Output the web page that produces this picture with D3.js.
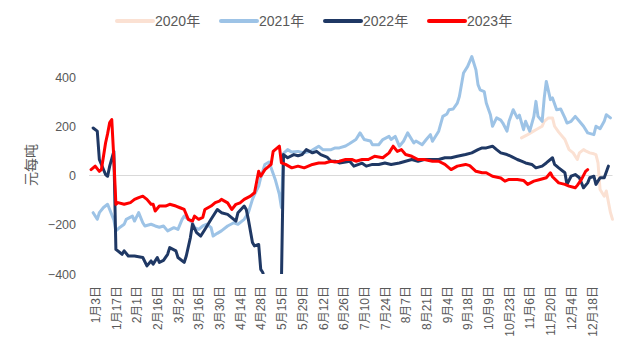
<!DOCTYPE html>
<html>
<head>
<meta charset="utf-8">
<script src="https://cdn.jsdelivr.net/npm/d3@7"></script>
<style>
	body { margin: 0; background: #fff; }
	svg text { font-family: 'Liberation Sans', 'Noto Sans CJK SC', sans-serif; }
</style>
</head>
<body>
<div id="chart"></div>
<script>
// trading-day index (0 = 1月3日) and value in 元每吨
const s2020 = [
	[206, 153], [209, 166], [211, 176], [213, 186], [216, 200], [217, 220], [219, 234],
	[221, 234], [222, 200], [224, 176], [227, 146], [229, 105], [231, 92], [233, 65],
	[234, 92], [236, 105], [237, 100], [239, 92], [241, 88], [242, 85], [243, 51],
	[244, -57], [246, -84], [247, -63], [249, -150], [250, -178]
];
const s2021 = [
	[-1, -151], [1, -178], [2, -151], [4, -130], [6, -117], [7, -138], [9, -180], [10, -225],
	[12, -210], [14, -198], [15, -178], [18, -165], [19, -185], [21, -151], [23, -192],
	[24, -205], [27, -198], [29, -205], [31, -210], [33, -205], [35, -225], [38, -212],
	[40, -219], [42, -178], [43, -165], [45, -178], [47, -192], [48, -212], [50, -219],
	[52, -205], [54, -198], [56, -212], [57, -246], [59, -235], [61, -225], [64, -205],
	[67, -192], [69, -198], [72, -178], [74, -151], [76, -97], [77, -77], [79, -43],
	[80, -9], [82, 45], [84, 55], [85, 31], [87, -16], [89, -77], [90, -130], [91, 90],
	[93, 105], [95, 95], [98, 98], [101, 92], [104, 98], [108, 119], [110, 105], [114, 105],
	[116, 112], [118, 112], [121, 120], [123, 130], [126, 146], [128, 173], [130, 146],
	[133, 140], [134, 125], [137, 125], [139, 146], [142, 159], [143, 146], [145, 159],
	[147, 119], [149, 139], [151, 173], [154, 132], [155, 140], [158, 125], [160, 146],
	[162, 166], [163, 139], [166, 180], [168, 240], [170, 250], [171, 267], [173, 270],
	[175, 294], [176, 321], [178, 416], [180, 443], [182, 483], [184, 429], [185, 369],
	[186, 348], [188, 341], [189, 294], [191, 247], [192, 200], [194, 234], [196, 225],
	[197, 213], [199, 180], [200, 220], [202, 267], [204, 234], [205, 245], [207, 186],
	[208, 220], [210, 180], [212, 240], [213, 301], [214, 240], [216, 220], [217, 314],
	[218, 382], [220, 308], [221, 315], [223, 267], [225, 270], [227, 234], [228, 213],
	[230, 220], [232, 240], [234, 220], [236, 200], [238, 173], [241, 166], [242, 200],
	[244, 190], [246, 220], [247, 247], [249, 234]
];
const s2022 = [
	[-1, 193], [1, 180], [2, 65], [5, 4], [6, -3], [7, 38], [9, 98], [10, -300],
	[13, -320], [14, -306], [16, -327], [19, -327], [23, -333], [25, -367], [27, -347],
	[28, -360], [30, -333], [31, -353], [33, -345], [35, -320], [36, -293], [39, -306],
	[40, -333], [43, -353], [44, -327], [46, -252], [47, -198], [49, -232], [51, -246],
	[53, -219], [56, -178], [59, -138], [61, -151], [64, -158], [68, -185], [69, -151],
	[72, -124], [73, -138], [74, -178], [76, -272], [77, -286], [79, -280], [80, -381],
	[81, -394], [82, -430], [89, -430], [90, -430], [91, 85], [93, 72], [96, 85], [98, 80],
	[100, 85], [102, 105], [105, 92], [107, 98], [109, 85], [112, 75], [114, 58], [116, 58],
	[118, 51], [121, 55], [123, 58], [125, 38], [129, 50], [131, 38], [134, 45], [137, 45],
	[140, 51], [143, 45], [147, 51], [150, 58], [153, 65], [156, 58], [159, 65], [163, 65],
	[166, 65], [169, 72], [172, 72], [175, 78], [179, 85], [182, 92], [185, 105], [187, 112],
	[189, 112], [192, 119], [194, 105], [196, 92], [199, 85], [201, 78], [204, 65], [206, 58],
	[208, 51], [211, 45], [213, 31], [216, 38], [218, 51], [221, 72], [222, 45], [224, 31],
	[227, 11], [228, -36], [230, -3], [232, 4], [234, -9], [236, -50], [238, -30], [239, -9],
	[241, -3], [242, -36], [244, -9], [246, -9], [248, 38]
];
const s2023 = [
	[-2, 24], [0, 38], [2, 17], [3, 24], [5, 132], [6, 170], [7, 215], [8, 227], [9, 70],
	[10, -117], [11, -110], [14, -117], [17, -110], [19, -97], [21, -90], [23, -84],
	[25, -97], [27, -117], [28, -117], [29, -144], [31, -124], [34, -124], [36, -117],
	[39, -124], [41, -131], [43, -138], [45, -178], [47, -185], [48, -165], [50, -178],
	[52, -170], [53, -138], [56, -124], [58, -110], [60, -104], [61, -97], [64, -111],
	[66, -138], [68, -117], [70, -111], [72, -97], [75, -84], [77, -70], [79, 17], [80, -3],
	[82, 24], [85, 45], [86, 98], [88, 112], [89, 119], [90, 51], [92, 45], [95, 31],
	[98, 38], [101, 31], [105, 45], [108, 51], [111, 51], [114, 58], [116, 55], [118, 58],
	[121, 65], [124, 65], [126, 58], [129, 65], [132, 65], [135, 78], [139, 72], [142, 92],
	[144, 119], [146, 98], [148, 105], [150, 85], [153, 78], [156, 65], [159, 65], [163, 58],
	[166, 58], [169, 45], [172, 24], [175, 38], [179, 45], [181, 40], [184, 17], [187, 11],
	[189, 11], [192, -3], [196, -10], [198, -23], [200, -16], [204, -16], [207, -20],
	[209, -36], [212, -23], [215, -16], [218, -9], [220, 11], [221, -5], [224, -30],
	[227, -36], [229, -43], [232, -50], [233, -40], [235, -16], [237, 17], [238, 24]
];

const seriesNames = ['2020年', '2021年', '2022年', '2023年'];
const seriesData = [s2020, s2021, s2022, s2023];
const seriesColors = ['#FBE1D3', '#9DC3E6', '#1F3864', '#FF0000'];

const tickIdx = d3.range(0, 241, 10);
const tickLabels = ['1月3日', '1月17日', '2月1日', '2月16日', '3月2日', '3月16日', '3月30日',
	'4月14日', '4月28日', '5月15日', '5月29日', '6月12日', '6月26日', '7月10日', '7月24日',
	'8月7日', '8月21日', '9月4日', '9月18日', '10月9日', '10月23日', '11月6日', '11月20日',
	'12月4日', '12月18日'];
const yTicks = [-400, -200, 0, 200, 400];

const margin = { top: 77, right: 13.5, bottom: 79, left: 89 },
	width = 626 - margin.left - margin.right,
	height = 353 - margin.top - margin.bottom;

const root = d3
	.select('#chart')
	.append('svg')
	.attr('width', 626)
	.attr('height', 353);

const svg = root.append('g').attr('transform', `translate(${margin.left},${margin.top})`);

const x = d3.scaleLinear().domain([-3, 250]).range([0, width]);
const y = d3.scaleLinear().domain([-400, 400]).range([height, 0]);
const color = d3.scaleOrdinal().domain(seriesNames).range(seriesColors);

svg.append('clipPath').attr('id', 'plot-clip')
	.append('rect').attr('x', -2).attr('y', -40).attr('width', width + 4).attr('height', height + 40);

// zero line
svg.append('line')
	.attr('x1', 0).attr('x2', width)
	.attr('y1', y(0)).attr('y2', y(0))
	.attr('stroke', '#D9D9D9').attr('stroke-width', 1);

// y axis
const yAxis = svg.append('g')
	.call(d3.axisLeft(y).tickValues(yTicks).tickSize(0).tickPadding(13));
yAxis.select('.domain').remove();
yAxis.selectAll('text').attr('fill', '#595959').style('font-size', '12.5px');

// x axis, labels rotated
const xAxis = svg.append('g')
	.attr('transform', `translate(0,${height})`)
	.call(d3.axisBottom(x).tickValues(tickIdx).tickFormat((d, i) => tickLabels[i]).tickSize(0));
xAxis.select('.domain').remove();
xAxis.selectAll('text')
	.attr('transform', 'rotate(-90)')
	.attr('text-anchor', 'end')
	.attr('x', -12)
	.attr('y', 0)
	.attr('dy', '0.35em')
	.attr('fill', '#595959')
	.style('font-size', '12px');

root.append('text')
	.attr('transform', 'translate(31,165) rotate(-90)')
	.attr('text-anchor', 'middle')
	.attr('dy', '0.35em')
	.attr('fill', '#595959')
	.style('font-size', '14px')
	.text('元每吨');

const line = d3.line()
	.x((d) => x(d[0]))
	.y((d) => y(d[1]));

const lines = svg.append('g').attr('clip-path', 'url(#plot-clip)');
seriesData.forEach((s, i) => {
	lines.append('path')
		.attr('d', line(s))
		.attr('fill', 'none')
		.attr('stroke', color(seriesNames[i]))
		.attr('stroke-width', 3)
		.attr('stroke-linejoin', 'round')
		.attr('stroke-linecap', 'round');
});

// legend
const legend = root.append('g').attr('transform', 'translate(117,21)');
seriesNames.forEach((name, i) => {
	const g = legend.append('g').attr('transform', `translate(${i * 104},0)`);
	g.append('line')
		.attr('x1', 0).attr('x2', 36)
		.attr('stroke', color(name))
		.attr('stroke-width', 4)
		.attr('stroke-linecap', 'round');
	g.append('text')
		.attr('x', 38)
		.attr('dy', '0.35em')
		.attr('fill', '#595959')
		.style('font-size', '14px')
		.text(name);
});
</script>
</body>
</html>
